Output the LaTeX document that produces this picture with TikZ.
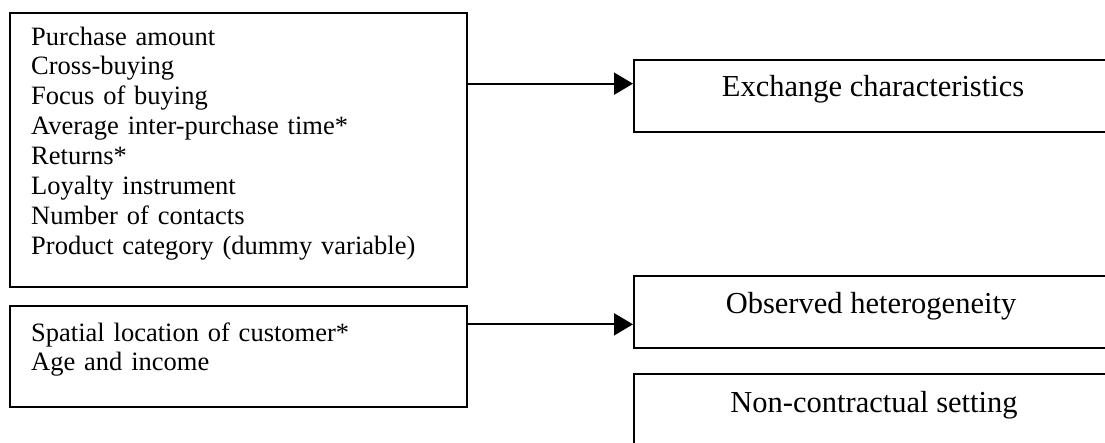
\documentclass[tikz,border=0pt]{standalone}
\usepackage{fontspec}
\setmainfont{Liberation Serif}
\usetikzlibrary{arrows.meta,calc}
\tikzset{
  frame/.style={draw=black, line width=2pt, rectangle, inner sep=0pt, anchor=north west},
  lefttext/.style={anchor=base west, inner sep=0pt, align=left, text width=420pt,
    font=\fontsize{26.5}{29.9}\selectfont},
  righttext/.style={anchor=base, inner sep=0pt, font=\fontsize{30.5}{36}\selectfont},
  arr/.style={line width=2pt, -{Triangle[length=19pt,width=22pt]}}
}
\begin{document}
\begin{tikzpicture}[x=1pt,y=-1pt]
\useasboundingbox (0,0) rectangle (1105,442);
\clip (0,0) rectangle (1105,442);
% left boxes
\node[frame, minimum width=457pt, minimum height=274pt] (b1) at (9,12) {};
\node[lefttext] (t1) at (31,45) {Purchase amount\\Cross-buying\\Focus of buying\\Average inter-purchase time*\\Returns*\\Loyalty instrument\\Number of contacts\\Product category (dummy variable)};
\node[frame, minimum width=457pt, minimum height=101pt] (b2) at (9,305) {};
\node[lefttext] (t2) at (31,341) {Spatial location of customer*\\Age and income};
% right boxes
\node[frame, minimum width=478pt, minimum height=72pt] (ec) at (633,59) {};
\node[righttext] (ect) at (873,96) {Exchange characteristics};
\node[frame, minimum width=478pt, minimum height=72pt] (oh) at (633,275) {};
\node[righttext] (oht) at (871,313) {Observed heterogeneity};
\node[frame, minimum width=478pt, minimum height=72pt] (nc) at (633,373) {};
\node[righttext] (nct) at (874,412) {Non-contractual setting};
% connectors
\coordinate (ecin) at ($(ec.north west)!0.3333!(ec.south west)$);
\coordinate (ohin) at ($(oh.north west)!0.6667!(oh.south west)$);
\draw[arr] (b1.east |- ecin) -- (ecin);
\draw[arr] (b2.east |- ohin) -- (ohin);
\end{tikzpicture}
\end{document}
